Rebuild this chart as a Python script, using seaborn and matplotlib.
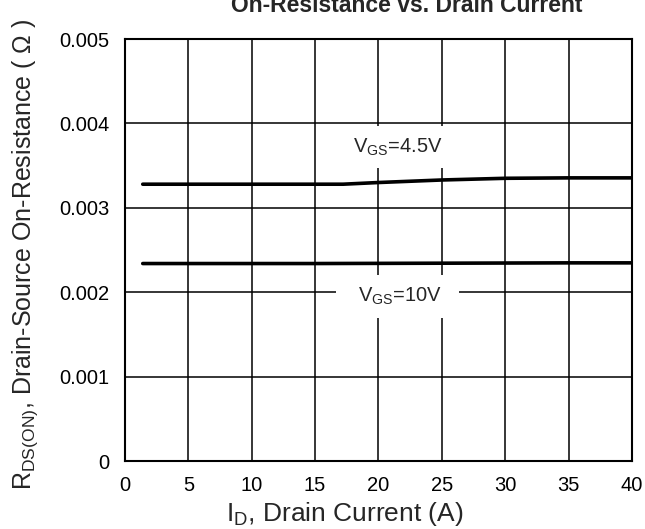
import pandas as pd
import numpy as np
import matplotlib
matplotlib.use("Agg")
import matplotlib.pyplot as plt
import seaborn as sns

# ==============================
# DATA
# ==============================

id_45 = [1.4, 5, 10, 15, 17.2, 20, 25, 30, 35, 40]
rds_45 = [0.00328, 0.00328, 0.00328, 0.00328, 0.00328, 0.00330, 0.00333, 0.00335, 0.003355, 0.003355]

id_10 = [1.4, 5, 10, 15, 20, 25, 30, 35, 40]
rds_10 = [0.00234, 0.00234, 0.00234, 0.00234, 0.002342, 0.002344, 0.002346, 0.002348, 0.002348]

x_ticks = [0, 5, 10, 15, 20, 25, 30, 35, 40]
y_ticks = [0, 0.001, 0.002, 0.003, 0.004, 0.005]
y_tick_labels = ["0", "0.001", "0.002", "0.003", "0.004", "0.005"]

df = pd.concat([
    pd.DataFrame({"Id": id_45, "Rds": rds_45, "Vgs": "4.5V"}),
    pd.DataFrame({"Id": id_10, "Rds": rds_10, "Vgs": "10V"}),
], ignore_index=True)

# ==============================
# STYLE
# ==============================

sns.set_style("white")
plt.rcParams["font.family"] = ["Liberation Sans", "DejaVu Sans"]
plt.rcParams["mathtext.default"] = "regular"

fig = plt.figure(figsize=(6.45, 5.29), dpi=100)
ax = fig.add_axes([0.1938, 0.1285, 0.786, 0.7977])

sns.lineplot(data=df, x="Id", y="Rds", units="Vgs", estimator=None,
             color="black", linewidth=2.6, ax=ax, legend=False)

ax.set_xlim(0, 40)
ax.set_ylim(0, 0.005)
ax.set_xticks(x_ticks)
ax.set_yticks(y_ticks)
ax.set_yticklabels(y_tick_labels)
ax.tick_params(length=0, labelsize=14.5, colors="black")
ax.tick_params(axis="x", pad=11)
ax.tick_params(axis="y", pad=11)

ax.grid(True, color="black", linewidth=1.1)
ax.set_axisbelow(True)
for s in ax.spines.values():
    s.set_color("black")
    s.set_linewidth(1.5)

ax.set_xlabel(r"I$_{D}$, Drain Current (A)", fontsize=19)
ax.xaxis.set_label_coords(0.434, -0.093)
ax.set_ylabel(r"R$_{DS(ON)}$, Drain-Source On-Resistance ( $\Omega$ )", fontsize=18)
ax.yaxis.set_label_coords(-0.168, 0.49)

# curve labels with white box behind them
ax.text(21.5, 0.00372, r"V$_{GS}$=4.5V", fontsize=14.5, ha="center", va="center",
        bbox=dict(facecolor="white", edgecolor="none", boxstyle="square,pad=0.5"))
ax.text(21.5, 0.00195, r"  V$_{GS}$=10V  ", fontsize=14.5, ha="center", va="center",
        bbox=dict(facecolor="white", edgecolor="none", boxstyle="square,pad=0.55"))

fig.text(0.63, 1 - 12 / 529, "On-Resistance vs. Drain Current", fontsize=16.5,
         fontweight="bold", ha="center", va="baseline")

fig.savefig("out.png", dpi=100)
